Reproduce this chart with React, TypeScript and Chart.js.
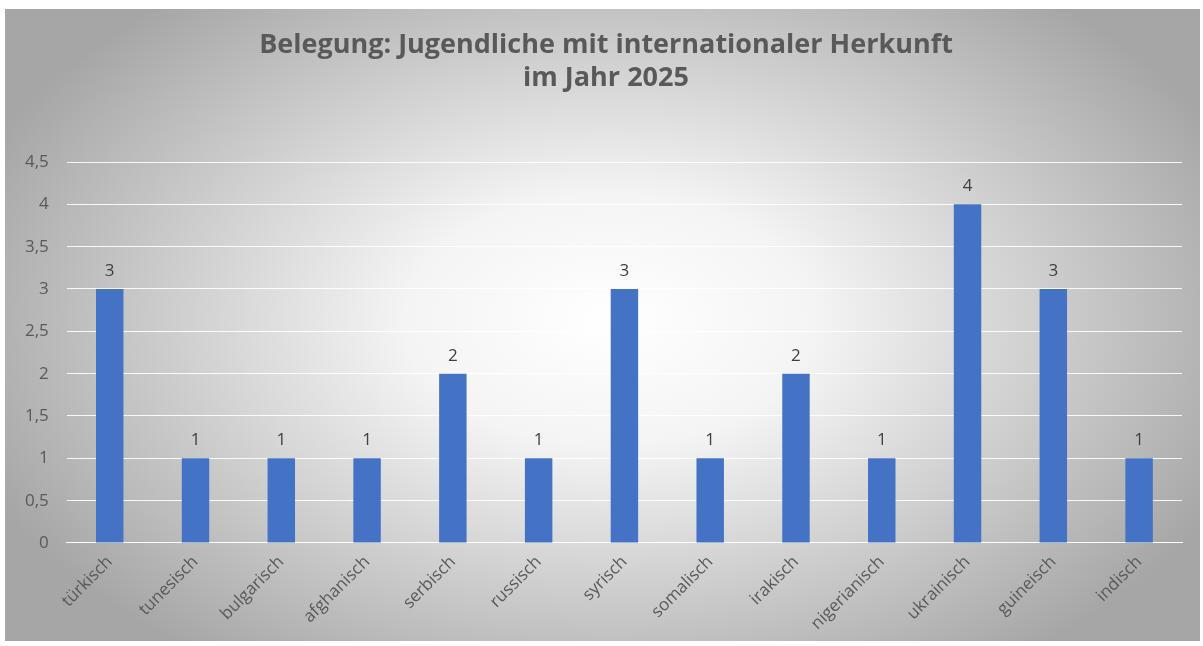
import React, { useEffect, useRef } from "react";
import { Chart, registerables } from "chart.js";

Chart.register(...registerables);

const categories = [
  "türkisch", "tunesisch", "bulgarisch", "afghanisch", "serbisch", "russisch",
  "syrisch", "somalisch", "irakisch", "nigerianisch", "ukrainisch", "guineisch", "indisch",
];
const values = [3, 1, 1, 1, 2, 1, 3, 1, 2, 1, 4, 3, 1];
const titleLines = ["Belegung: Jugendliche mit internationaler Herkunft", "im Jahr 2025"];

const bgPlugin = {
  id: "bgPlugin",
  beforeDraw(chart: any) {
    const ctx = chart.ctx;
    const w = chart.width;
    const h = chart.height;
    ctx.save();
    ctx.fillStyle = "#ffffff";
    ctx.fillRect(0, 0, w, h);
    const x0 = 5, y0 = 9, x1 = w - 3, y1 = h - 5;
    ctx.beginPath();
    ctx.rect(x0, y0, x1 - x0, y1 - y0);
    ctx.clip();
    const cx = 610, cy = 320, rx = 680, ry = 420;
    ctx.translate(cx, cy);
    ctx.scale(rx / ry, 1);
    const g = ctx.createRadialGradient(0, 0, 0, 0, 0, ry);
    g.addColorStop(0, "#ffffff");
    g.addColorStop(0.3, "#f4f4f4");
    g.addColorStop(0.65, "#cdcdcd");
    g.addColorStop(1, "#a6a6a6");
    ctx.fillStyle = g;
    ctx.fillRect(-cx * 2, -cy * 2, w * 4, h * 4);
    ctx.restore();
  },
};

const titlePlugin = {
  id: "titlePlugin",
  afterDraw(chart: any) {
    const ctx = chart.ctx;
    ctx.save();
    ctx.fillStyle = "#595959";
    ctx.font = "bold 27px 'Open Sans', sans-serif";
    ctx.textAlign = "center";
    ctx.textBaseline = "middle";
    titleLines.forEach((line, i) => {
      ctx.fillText(line, 606, 45 + i * 33);
    });
    ctx.restore();
  },
};

const labelPlugin = {
  id: "labelPlugin",
  afterDatasetsDraw(chart: any) {
    const ctx = chart.ctx;
    const meta = chart.getDatasetMeta(0);
    ctx.save();
    ctx.fillStyle = "#404040";
    ctx.font = "17px 'Open Sans', sans-serif";
    ctx.textAlign = "center";
    ctx.textBaseline = "middle";
    meta.data.forEach((el: any, i: number) => {
      ctx.fillText(String(values[i]), el.x, el.y - 18);
    });
    ctx.restore();
  },
};

export default function App() {
  const ref = useRef<HTMLCanvasElement>(null);
  useEffect(() => {
    document.body.style.margin = "0";
    const chart = new Chart(ref.current!, {
      type: "bar",
      data: {
        labels: categories,
        datasets: [
          {
            data: values,
            backgroundColor: "#4472c4",
            borderWidth: 0,
            barPercentage: 0.32,
            categoryPercentage: 1,
          },
        ],
      },
      options: {
        animation: false,
        responsive: false,
        layout: { padding: { left: 7, right: 21, top: 162, bottom: 3 } },
        plugins: {
          legend: { display: false },
          tooltip: { enabled: false },
          title: { display: false },
        },
        scales: {
          x: {
            grid: { display: false, drawTicks: false },
            border: { display: true, color: "rgba(255,255,255,0.9)", width: 1 },
            ticks: {
              color: "#595959",
              font: { family: "'Open Sans', sans-serif", size: 17 },
              minRotation: 45,
              maxRotation: 45,
              padding: 9,
            },
          },
          y: {
            min: 0,
            max: 4.5,
            grid: { color: "rgba(255,255,255,0.9)", drawTicks: false },
            border: { display: false },
            ticks: {
              stepSize: 0.5,
              color: "#595959",
              font: { family: "'Open Sans', sans-serif", size: 17 },
              padding: 18,
              callback: (v: any) => String(v).replace(".", ","),
            },
          },
        },
      },
      plugins: [bgPlugin, labelPlugin, titlePlugin],
    });
    return () => chart.destroy();
  }, []);
  return <canvas ref={ref} width={1203} height={646} style={{ display: "block" }} />;
}
